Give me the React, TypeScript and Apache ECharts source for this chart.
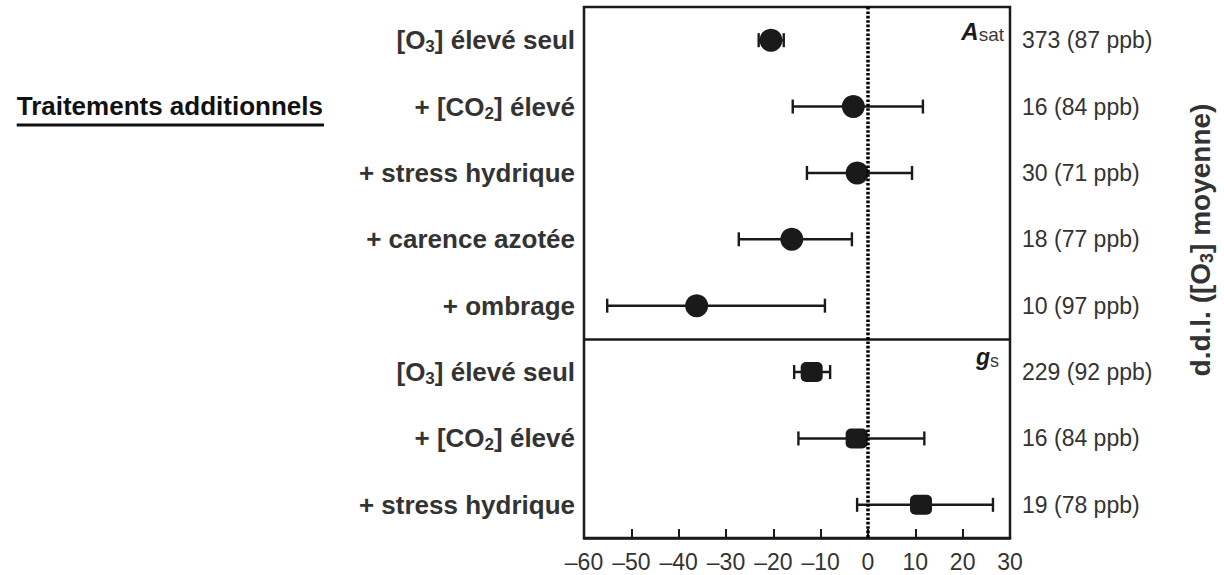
import React, { useEffect, useRef } from "react";
import * as echarts from "echarts";

// ---- data ----
const rowLabels = [
  "[O3] élevé seul",
  "+ [CO2] élevé",
  "+ stress hydrique",
  "+ carence azotée",
  "+ ombrage",
  "[O3] élevé seul",
  "+ [CO2] élevé",
  "+ stress hydrique",
];
const ddlLabels = [
  "373 (87 ppb)",
  "16 (84 ppb)",
  "30 (71 ppb)",
  "18 (77 ppb)",
  "10 (97 ppb)",
  "229 (92 ppb)",
  "16 (84 ppb)",
  "19 (78 ppb)",
];
// A_sat panel (rows 0..4)
const asatMean = [-20.5, -3.1, -2.3, -16.1, -36.2];
const asatLow = [-23.1, -15.9, -12.9, -27.3, -55.1];
const asatHigh = [-17.8, 11.6, 9.3, -3.4, -9.1];
// g_s panel (rows 5..7)
const gsMean = [-11.9, -2.4, 11.2];
const gsLow = [-15.6, -14.7, -2.3];
const gsHigh = [-8.0, 11.9, 26.4];

const xMin = -60;
const xMax = 30;
const xInterval = 10;

// ---- layout ----
const W = 1224;
const H = 575;
const GRID_LEFT = 584;
const GRID_RIGHT_X = 1010;
const GRID_TOP = 7;
const GRID_BOTTOM_Y = 538;
const FONT = "'Liberation Sans', Arial, Helvetica, sans-serif";
const INK = "#1a1a1a";
const TEXT = "#333333";

function richLabel(s: string, cls: string, subCls: string) {
  const m = s.match(/^(.*\[C?O)(\d)(\].*)$/);
  if (!m) return `{${cls}|${s}}`;
  return `{${cls}|${m[1]}}{${subCls}|${m[2]}}{${cls}|${m[3]}}`;
}

export default function App() {
  const ref = useRef<HTMLDivElement>(null);
  useEffect(() => {
    if (!ref.current) return;
    const chart = echarts.init(ref.current, undefined, { renderer: "svg" });

    const nRows = rowLabels.length;
    const yCenter = (i: number) => i + 0.5;

    const asatPts = asatMean.map((v, i) => [v, yCenter(i)]);
    const gsPts = gsMean.map((v, i) => [v, yCenter(i + asatMean.length)]);
    const errData = [
      ...asatLow.map((l, i) => [l, asatHigh[i], yCenter(i)]),
      ...gsLow.map((l, i) => [l, gsHigh[i], yCenter(i + asatMean.length)]),
    ];

    // measure title width for underline
    const ctx = document.createElement("canvas").getContext("2d")!;
    const titleSize = 26;
    ctx.font = `bold ${titleSize}px ${FONT}`;
    const titleText = "Traitements additionnels";
    const titleW = ctx.measureText(titleText).width;
    const titleRight = 323;
    const titleY = 106;

    const subStyle = (size: number, fill: string, bold: boolean, lh: number) => ({
      fontSize: size,
      fontWeight: bold ? "bold" : "normal",
      fill,
      color: fill,
      fontFamily: FONT,
      lineHeight: lh,
      verticalAlign: "bottom",
    });

    const option: any = {
      animation: false,
      grid: {
        left: GRID_LEFT,
        right: W - GRID_RIGHT_X,
        top: GRID_TOP,
        bottom: H - GRID_BOTTOM_Y,
        show: true,
        borderColor: INK,
        borderWidth: 2.5,
        backgroundColor: "transparent",
      },
      xAxis: {
        type: "value",
        min: xMin,
        max: xMax,
        interval: xInterval,
        position: "bottom",
        axisLine: { show: true, onZero: false, lineStyle: { color: INK, width: 2.5 } },
        axisTick: { show: true, inside: true, length: 9, lineStyle: { color: INK, width: 2 } },
        splitLine: { show: false },
        axisLabel: {
          color: TEXT,
          fontSize: 23,
          fontFamily: FONT,
          margin: 12,
          formatter: (v: number) => (v < 0 ? "\u2013" + Math.abs(v) : String(v)),
        },
      },
      yAxis: [
        {
          type: "value",
          min: 0,
          max: nRows,
          inverse: true,
          show: false,
        },
        {
          type: "category",
          data: rowLabels,
          inverse: true,
          position: "left",
          axisLine: { show: false, onZero: false },
          axisTick: { show: false },
          splitLine: { show: false },
          axisLabel: {
            margin: 9,
            formatter: (v: string) => richLabel(v, "b", "s"),
            rich: {
              b: { fontSize: 26, fontWeight: "bold", color: TEXT, fontFamily: FONT, lineHeight: 30 },
              s: subStyle(17, TEXT, true, 14),
            },
          },
        },
        {
          type: "category",
          data: ddlLabels,
          inverse: true,
          position: "right",
          axisLine: { show: false, onZero: false },
          axisTick: { show: false },
          splitLine: { show: false },
          axisLabel: {
            margin: 12,
            color: TEXT,
            fontSize: 23,
            fontFamily: FONT,
          },
        },
      ],
      series: [
        {
          type: "custom",
          yAxisIndex: 0,
          data: errData,
          encode: { x: [0, 1], y: 2 },
          z: 2,
          renderItem: (_p: any, api: any) => {
            const y = api.value(2);
            const a = api.coord([api.value(0), y]);
            const b = api.coord([api.value(1), y]);
            const h = 7;
            const st = { stroke: INK, lineWidth: 2.4 };
            return {
              type: "group",
              children: [
                { type: "line", shape: { x1: a[0], y1: a[1], x2: b[0], y2: b[1] }, style: st },
                { type: "line", shape: { x1: a[0], y1: a[1] - h, x2: a[0], y2: a[1] + h }, style: st },
                { type: "line", shape: { x1: b[0], y1: b[1] - h, x2: b[0], y2: b[1] + h }, style: st },
              ],
            };
          },
        },
        {
          type: "scatter",
          yAxisIndex: 0,
          data: asatPts,
          symbol: "circle",
          symbolSize: 23,
          itemStyle: { color: INK, opacity: 1 },
          z: 3,
        },
        {
          type: "scatter",
          yAxisIndex: 0,
          data: gsPts,
          symbol: "roundRect",
          symbolSize: [22, 20],
          itemStyle: { color: INK, opacity: 1 },
          z: 3,
        },
        {
          type: "line",
          yAxisIndex: 0,
          data: [],
          z: 5,
          markLine: {
            silent: true,
            symbol: "none",
            label: { show: false },
            data: [
              { yAxis: asatMean.length, lineStyle: { color: INK, width: 2.5, type: "solid" } },
              { xAxis: 0, lineStyle: { color: "#000", width: 3.5, type: [2.6, 1.8] } },
            ],
          },
        },
      ],
      graphic: [
        {
          type: "text",
          x: GRID_RIGHT_X - 6,
          y: GRID_TOP + 24,
          style: {
            text: "{a|A}{s|sat}",
            align: "right",
            verticalAlign: "middle",
            rich: {
              a: { fontSize: 24, fontWeight: "bold", fontStyle: "italic", fill: INK, fontFamily: FONT, lineHeight: 26 },
              s: subStyle(19, "#3a3a3a", false, 18),
            },
          },
        },
        {
          type: "text",
          x: GRID_RIGHT_X - 11,
          y: 357,
          style: {
            text: "{a|g}{s|s}",
            align: "right",
            verticalAlign: "middle",
            rich: {
              a: { fontSize: 23, fontWeight: "bold", fontStyle: "italic", fill: INK, fontFamily: FONT, lineHeight: 26 },
              s: subStyle(18, "#3a3a3a", false, 18),
            },
          },
        },
        {
          type: "text",
          x: titleRight,
          y: titleY,
          style: {
            text: titleText,
            align: "right",
            verticalAlign: "middle",
            fontSize: titleSize,
            fontWeight: "bold",
            fontFamily: FONT,
            fill: "#111",
          },
        },
        {
          type: "line",
          shape: { x1: titleRight - titleW, y1: titleY + 19, x2: titleRight + 1, y2: titleY + 19 },
          style: { stroke: "#111", lineWidth: 3 },
        },
        {
          type: "text",
          x: 1200,
          y: 240,
          rotation: Math.PI / 2,
          style: {
            text: richLabel("d.d.l. ([O3] moyenne)", "b", "s"),
            align: "center",
            verticalAlign: "middle",
            rich: {
              b: { fontSize: 28, fontWeight: "bold", fill: TEXT, fontFamily: FONT, lineHeight: 32 },
              s: subStyle(18, TEXT, true, 16),
            },
          },
        },
      ],
    };
    chart.setOption(option);
    return () => chart.dispose();
  }, []);
  return (
    <div
      ref={ref}
      style={{ position: "fixed", left: 0, top: 0, width: W, height: H, background: "#fff" }}
    />
  );
}
